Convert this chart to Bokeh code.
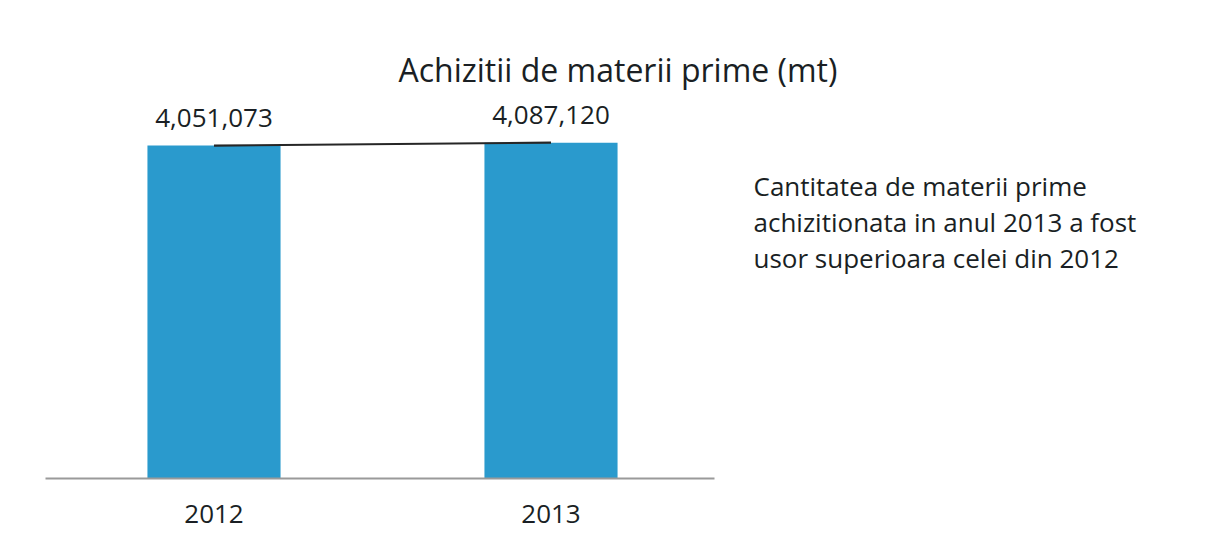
from bokeh.plotting import figure
from bokeh.models import Range1d, Label, ColumnDataSource, LabelSet, FixedTicker
from bokeh.core.properties import value
from bokeh.embed import file_html
from bokeh.resources import INLINE

years = [2012, 2013]
year_labels = ["2012", "2013"]
values = [4051073, 4087120]
value_labels = ["4,051,073", "4,087,120"]
title_text = "Achizitii de materii prime (mt)"
note_lines = [
    "Cantitatea de materii prime",
    "achizitionata in anul 2013 a fost",
    "usor superioara celei din 2012",
]

FONT = "Open Sans"
BAR = "#2a9acd"
TXT = "#1a1f24"

W, H = 1206, 543
left, right, top, bottom = 45, 5, 100, 543 - 478
unit = 337.0  # px per year
x0 = years[0] - 0.5
x1 = x0 + (W - left - right) / unit

p = figure(x_range=Range1d(x0, x1), y_range=Range1d(0, 4600000), width=W, height=H,
           output_backend="svg", toolbar_location=None,
           min_border_left=left, min_border_right=right,
           min_border_top=top, min_border_bottom=bottom)
p.outline_line_color = None
p.grid.grid_line_color = None
p.yaxis.visible = False

p.title.text = title_text
p.title.align = "left"
p.title.offset = 353
p.title.standoff = 20
p.title.text_font = FONT
p.title.text_font_size = "32px"
p.title.text_font_style = "normal"
p.title.text_color = TXT

src = ColumnDataSource(dict(x=years, y=values, t=value_labels))
p.vbar(x="x", top="y", width=0.395, source=src, fill_color=BAR, line_color=None)
p.line(x="x", y="y", source=src, line_color="#262626", line_width=2.2)
p.add_layout(LabelSet(x="x", y="y", text="t", source=src, text_align="center",
                      text_baseline="alphabetic", y_offset=19,
                      text_font=value(FONT), text_font_size="26px", text_color=TXT))

ax = p.xaxis[0]
ax.ticker = FixedTicker(ticks=years)
ax.major_label_overrides = {y: s for y, s in zip(years, year_labels)}
ax.bounds = (years[0] - 0.5, years[-1] + 0.485)
ax.axis_line_color = "#9a9a9a"
ax.axis_line_width = 2
ax.major_tick_line_color = None
ax.minor_tick_line_color = None
ax.major_tick_out = 0
ax.major_tick_in = 0
ax.major_label_standoff = 26
ax.major_label_text_font = FONT
ax.major_label_text_font_size = "26px"
ax.major_label_text_color = TXT

frame_left = left
frame_bottom = 478
for i, line in enumerate(note_lines):
    base = 185 + 36 * i
    p.add_layout(Label(x=753 - frame_left, y=frame_bottom - base, x_units="screen", y_units="screen",
                       text=line, text_align="left", text_baseline="alphabetic",
                       text_font=FONT, text_font_size="26px", text_color=TXT))

open("out.html", "w").write(file_html(p, INLINE))
